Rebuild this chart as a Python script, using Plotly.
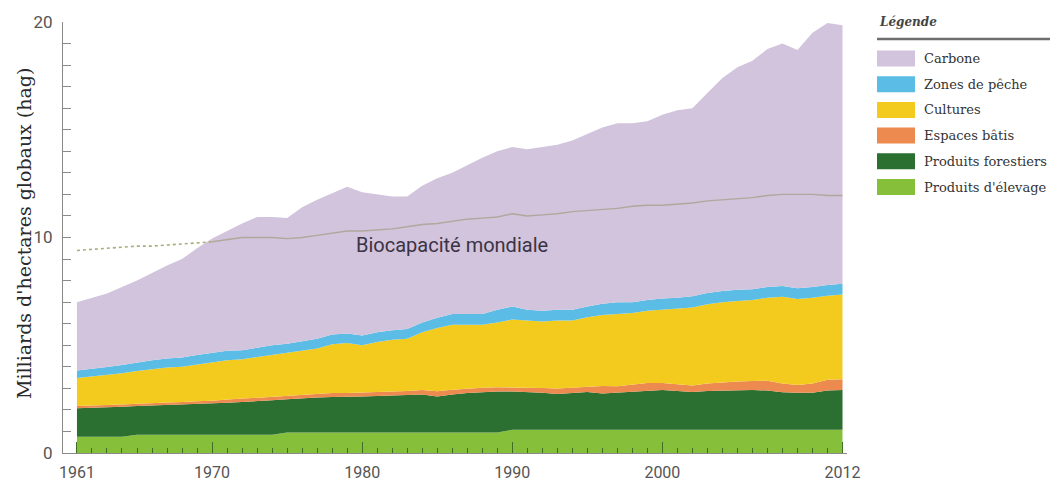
import plotly.graph_objects as go

years = list(range(1961, 2013))

# Component values (milliards hag)
elevage = [0.75, 0.75, 0.75, 0.75, 0.85, 0.85, 0.85, 0.85, 0.85, 0.85,
           0.85, 0.85, 0.85, 0.85, 0.95, 0.95, 0.95, 0.95, 0.95, 0.95,
           0.95, 0.95, 0.95, 0.95, 0.95, 0.95, 0.95, 0.95, 0.95, 1.08,
           1.08, 1.08, 1.08, 1.08, 1.08, 1.08, 1.08, 1.08, 1.08, 1.08,
           1.08, 1.08, 1.08, 1.08, 1.08, 1.08, 1.08, 1.08, 1.08, 1.08,
           1.08, 1.08]
forestiers = [1.33, 1.35, 1.35, 1.40, 1.33, 1.35, 1.37, 1.40, 1.43, 1.45,
              1.48, 1.52, 1.55, 1.60, 1.55, 1.60, 1.62, 1.65, 1.65, 1.67,
              1.70, 1.73, 1.75, 1.77, 1.67, 1.77, 1.83, 1.88, 1.90, 1.77,
              1.75, 1.72, 1.66, 1.70, 1.75, 1.68, 1.72, 1.78, 1.82, 1.84,
              1.80, 1.75, 1.80, 1.82, 1.84, 1.84, 1.82, 1.74, 1.72, 1.72,
              1.82, 1.84]
batis = [0.10, 0.10, 0.10, 0.10, 0.10, 0.10, 0.12, 0.12, 0.12, 0.12,
         0.15, 0.15, 0.15, 0.15, 0.15, 0.15, 0.15, 0.18, 0.18, 0.18,
         0.18, 0.18, 0.18, 0.20, 0.25, 0.22, 0.22, 0.20, 0.20, 0.20,
         0.20, 0.22, 0.25, 0.25, 0.25, 0.35, 0.30, 0.30, 0.35, 0.33,
         0.30, 0.30, 0.35, 0.38, 0.40, 0.42, 0.45, 0.40, 0.35, 0.42,
         0.50, 0.50]
cultures = [1.30, 1.35, 1.42, 1.45, 1.52, 1.60, 1.63, 1.63, 1.70, 1.78,
            1.82, 1.83, 1.90, 1.95, 2.00, 2.05, 2.13, 2.27, 2.32, 2.20,
            2.32, 2.39, 2.42, 2.68, 2.93, 3.01, 2.95, 2.92, 3.00, 3.15,
            3.12, 3.08, 3.16, 3.12, 3.22, 3.29, 3.35, 3.34, 3.35, 3.40,
            3.52, 3.62, 3.67, 3.72, 3.73, 3.76, 3.85, 4.03, 4.00, 3.98,
            3.90, 3.93]
peche = [0.35, 0.35, 0.37, 0.38, 0.40, 0.40, 0.42, 0.43, 0.45, 0.45,
         0.45, 0.42, 0.45, 0.45, 0.42, 0.45, 0.45, 0.45, 0.45, 0.45,
         0.45, 0.45, 0.45, 0.45, 0.48, 0.50, 0.50, 0.50, 0.60, 0.60,
         0.50, 0.50, 0.50, 0.50, 0.50, 0.52, 0.55, 0.50, 0.50, 0.52,
         0.50, 0.52, 0.52, 0.52, 0.52, 0.50, 0.50, 0.50, 0.50, 0.50,
         0.50, 0.50]
carbone = [3.17, 3.30, 3.41, 3.62, 3.80, 4.05, 4.31, 4.57, 4.95, 5.30,
           5.55, 5.88, 6.05, 5.95, 5.83, 6.20, 6.45, 6.55, 6.80, 6.65,
           6.40, 6.20, 6.15, 6.35, 6.47, 6.55, 6.90, 7.25, 7.35, 7.40,
           7.45, 7.60, 7.65, 7.85, 8.00, 8.18, 8.30, 8.30, 8.30, 8.53,
           8.70, 8.73, 9.28, 9.88, 10.33, 10.60, 11.05, 11.25, 11.05, 11.80,
           12.15, 12.00]
biocapacite = [9.40, 9.45, 9.50, 9.55, 9.60, 9.60, 9.65, 9.70, 9.75, 9.80,
               9.90, 10.00, 10.00, 10.00, 9.95, 10.00, 10.10, 10.20, 10.30, 10.30,
               10.35, 10.40, 10.50, 10.60, 10.65, 10.75, 10.85, 10.90, 10.95, 11.10,
               11.00, 11.05, 11.10, 11.20, 11.25, 11.30, 11.35, 11.45, 11.50, 11.50,
               11.55, 11.60, 11.70, 11.75, 11.80, 11.85, 11.95, 12.00, 12.00, 12.00,
               11.95, 11.95]

series = [
    ("Produits d'élevage", elevage, "#86c03b"),
    ("Produits forestiers", forestiers, "#2b6f31"),
    ("Espaces bâtis", batis, "#ec8a4f"),
    ("Cultures", cultures, "#f3cb1f"),
    ("Zones de pêche", peche, "#5bbde6"),
    ("Carbone", carbone, "#d1c4dc"),
]
x_ticks = [1961, 1970, 1980, 1990, 2000, 2012]
y_ticks = [0, 10, 20]

fig = go.Figure()
for name, vals, col in series:
    fig.add_trace(go.Scatter(x=years, y=vals, name=name, mode="lines",
                             stackgroup="one", line=dict(width=0, color=col),
                             fillcolor=col, showlegend=False, hoverinfo="skip"))

split = years.index(1970)
fig.add_trace(go.Scatter(x=years[:split + 1], y=biocapacite[:split + 1], mode="lines",
                         line=dict(color="#a9ae7c", width=1.6, dash="dot"),
                         showlegend=False))
fig.add_trace(go.Scatter(x=years[split:], y=biocapacite[split:], mode="lines",
                         line=dict(color="#b2a79d", width=1.4),
                         showlegend=False))

# page body has an 8px margin: figure is shifted by 8px right and down
OFF = 8
W, H = 1058 - OFF, 486 - OFF
L, R, T, B = 63 - OFF, 211, 22 - OFF, 33
pw, ph = W - L - R, H - T - B


def px(xp):
    return (xp - OFF - L) / pw


def py(yp):
    return (H - B - (yp - OFF)) / ph


SERIF = "DejaVu Serif, Liberation Serif, serif"

fig.add_annotation(x=1986.0, y=9.65, xref="x", yref="y", text="Biocapacité mondiale",
                   showarrow=False, font=dict(family="Roboto, Liberation Sans, sans-serif",
                                              size=20, color="#3b3344"))

fig.add_annotation(x=px(24), y=py(234), xref="paper", yref="paper",
                   text="Milliards d'hectares globaux (hag)", textangle=-90,
                   showarrow=False, xanchor="center", yanchor="middle",
                   font=dict(family=SERIF, size=19, color="#2a2a2a"))

# Custom legend
fig.add_annotation(x=px(877), y=py(22), xref="paper", yref="paper", text="<b><i>Légende</i></b>",
                   showarrow=False, xanchor="left", yanchor="middle",
                   font=dict(family=SERIF, size=12, color="#444444"))
fig.add_shape(type="line", xref="paper", yref="paper", x0=px(877), x1=px(1058),
              y0=py(39), y1=py(39), line=dict(color="#6e6e6e", width=2.5))
legend_order = ["Carbone", "Zones de pêche", "Cultures", "Espaces bâtis",
                "Produits forestiers", "Produits d'élevage"]
colmap = {n: c for n, _, c in series}
for i, name in enumerate(legend_order):
    yc = 58.5 + i * 25.7
    fig.add_shape(type="rect", xref="paper", yref="paper", x0=px(877), x1=px(915),
                  y0=py(yc + 8), y1=py(yc - 8), line=dict(width=0), fillcolor=colmap[name])
    fig.add_annotation(x=px(922), y=py(yc), xref="paper", yref="paper", text=name,
                       showarrow=False, xanchor="left", yanchor="middle",
                       font=dict(family=SERIF, size=13, color="#333333"))

fig.update_layout(
    width=W, height=H, margin=dict(l=L, r=R, t=T, b=B, autoexpand=False),
    plot_bgcolor="white", paper_bgcolor="white", showlegend=False,
    xaxis=dict(range=[1960.07, 2012.3], tickvals=x_ticks, ticktext=[str(v) for v in x_ticks],
               ticks="inside", ticklen=11, tickwidth=1.2, tickcolor="#3f6f22",
               minor=dict(tickmode="linear", tick0=1961, dtick=1, ticks="inside",
                          ticklen=5, tickwidth=1.2, tickcolor="#3f6f22"),
               showline=True, linecolor="#8a8a8a", linewidth=1, showgrid=False, zeroline=False,
               ticklabelstandoff=5,
               tickfont=dict(family="Roboto, sans-serif", size=16, color="#555555")),
    yaxis=dict(range=[0, 20], tickvals=y_ticks, ticks="inside", ticklen=8, tickcolor="#8a8a8a",
               minor=dict(tickmode="linear", tick0=0, dtick=1, ticks="inside", ticklen=8,
                          tickcolor="#8a8a8a"),
               showline=True, linecolor="#8a8a8a", linewidth=1, showgrid=False, zeroline=False,
               ticklabelstandoff=6,
               tickfont=dict(family="Roboto, sans-serif", size=17, color="#555555")),
)

fig.write_html("out.html")
